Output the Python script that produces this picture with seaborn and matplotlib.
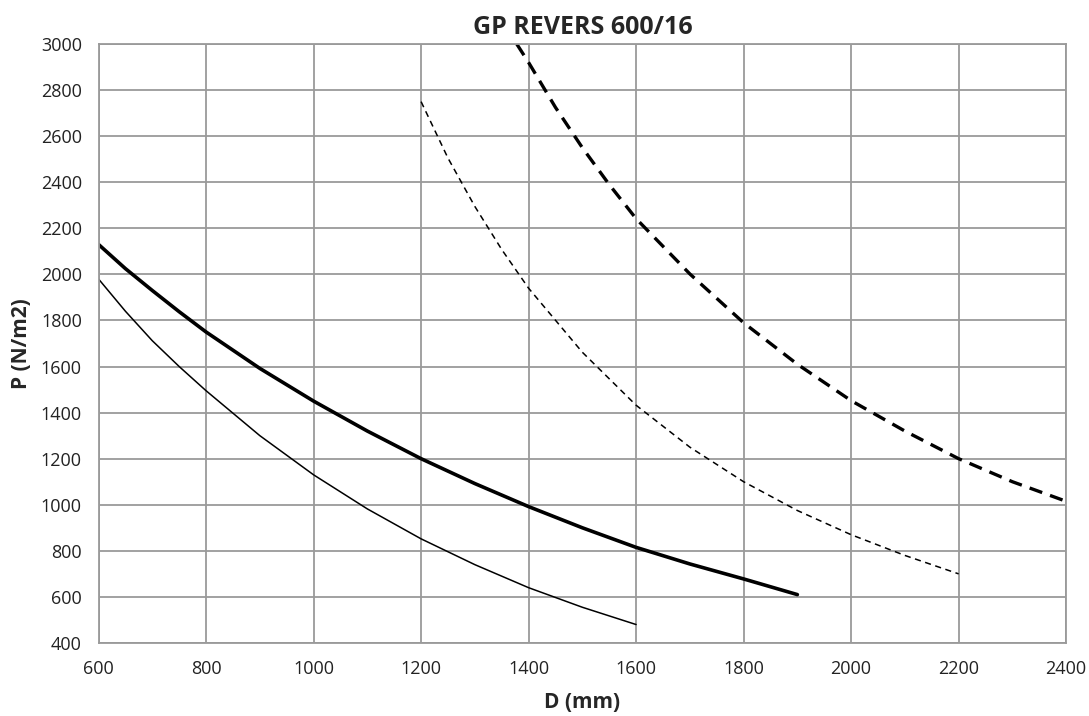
import numpy as np
import pandas as pd
import seaborn as sns
import matplotlib.pyplot as plt

# curves (D in mm, P in N/m2)
d_thick = [600, 650, 700, 750, 800, 900, 1000, 1100, 1200, 1300, 1400, 1500, 1600, 1700, 1800, 1900]
p_thick = [2130, 2025, 1930, 1838, 1750, 1592, 1450, 1320, 1200, 1092, 992, 900, 815, 743, 678, 610]

d_thin = [600, 650, 700, 750, 800, 900, 1000, 1100, 1200, 1300, 1400, 1500, 1600]
p_thin = [1980, 1840, 1712, 1600, 1495, 1300, 1130, 982, 852, 740, 640, 555, 480]

d_thin_dash = [1200, 1250, 1300, 1350, 1400, 1500, 1600, 1700, 1800, 1900, 2000, 2100, 2200]
p_thin_dash = [2750, 2505, 2295, 2108, 1940, 1662, 1432, 1250, 1100, 975, 870, 780, 700]

d_thick_dash = [1378, 1400, 1450, 1500, 1550, 1600, 1700, 1800, 1900, 2000, 2100, 2200, 2300, 2400]
p_thick_dash = [3000, 2920, 2725, 2550, 2390, 2242, 2002, 1790, 1610, 1452, 1320, 1200, 1100, 1015]

sns.set_style("white")
plt.rcParams['font.family'] = ['Open Sans', 'DejaVu Sans']

fig = plt.figure(figsize=(10.89, 7.16), dpi=100)
ax = fig.add_axes([0.0905, 0.102, 0.8885, 0.8365])

sns.lineplot(x=d_thick, y=p_thick, ax=ax, color="black", linewidth=2.6)
sns.lineplot(x=d_thin, y=p_thin, ax=ax, color="black", linewidth=1.1)
sns.lineplot(x=d_thin_dash, y=p_thin_dash, ax=ax, color="black", linewidth=1.1,
             linestyle=(0, (4, 3)))
sns.lineplot(x=d_thick_dash, y=p_thick_dash, ax=ax, color="black", linewidth=2.4,
             linestyle=(0, (4, 2.5)))

ax.set_xlim(600, 2400)
ax.set_ylim(400, 3000)
ax.set_xticks(range(600, 2401, 200))
ax.set_yticks(range(400, 3001, 200))
ax.grid(True, color="#9a9a9a", linewidth=1.3)
ax.set_axisbelow(True)
for s in ax.spines.values():
    s.set_color("#9a9a9a")
    s.set_linewidth(1.3)
ax.tick_params(axis="both", which="both", length=5, width=1.3, color="#9a9a9a",
               labelsize=13, labelcolor="#222222")
ax.tick_params(axis="y", pad=7)
ax.tick_params(axis="x", pad=7)

ax.set_title("GP REVERS 600/16", fontsize=18, fontweight="bold", pad=7)
ax.set_xlabel("D (mm)", fontsize=15, fontweight="bold", labelpad=10)
ax.set_ylabel("P (N/m2)", fontsize=15, fontweight="bold", labelpad=6)

fig.savefig("out.png", dpi=100)
